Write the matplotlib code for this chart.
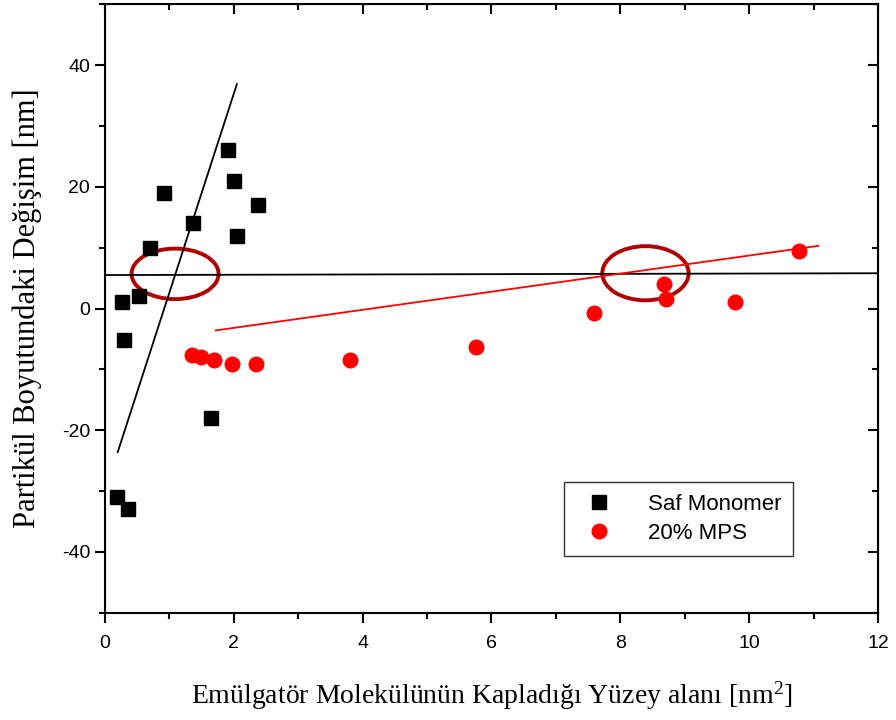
import numpy as np
import matplotlib.pyplot as plt
from matplotlib.patches import Ellipse
from matplotlib.ticker import MultipleLocator

# Saf Monomer
saf_x = [0.27, 0.30, 0.53, 0.70, 0.92, 1.37, 1.91, 2.00, 2.05, 2.38, 1.64, 0.19, 0.36]
saf_y = [1.0, -5.1, 2.0, 10.0, 19.0, 14.0, 26.0, 21.0, 12.0, 17.0, -18.0, -31.0, -33.0]

# 20% MPS
mps_x = [1.35, 1.50, 1.69, 1.97, 2.35, 3.80, 5.76, 7.59, 8.68, 8.71, 9.78, 10.77]
mps_y = [-7.6, -8.0, -8.5, -9.2, -9.1, -8.4, -6.4, -0.8, 4.0, 1.5, 1.1, 9.5]

# fitted lines (end points)
saf_fit_x = [0.20, 2.05]
saf_fit_y = [-23.6, 36.9]
mps_fit_x = [1.72, 11.07]
mps_fit_y = [-3.6, 10.3]
ref_x = [0, 12]
ref_y = [5.5, 5.8]

# marked intersections: (x, y, width, height)
circles = [(1.09, 5.7, 1.35, 8.3), (8.39, 5.8, 1.34, 8.9)]

plt.rcParams['font.family'] = ['Liberation Sans', 'DejaVu Sans']
plt.rcParams['axes.unicode_minus'] = False
plt.rcParams['mathtext.fontset'] = 'custom'
plt.rcParams['mathtext.rm'] = 'Liberation Serif'
plt.rcParams['mathtext.it'] = 'Liberation Serif:italic'

fig = plt.figure(figsize=(8.96, 7.2), dpi=100)
ax = fig.add_axes([0.117, 0.149, 0.863, 0.845])

ax.plot(ref_x, ref_y, color='black', lw=1.3)
ax.plot(saf_fit_x, saf_fit_y, color='black', lw=1.3)
ax.plot(mps_fit_x, mps_fit_y, color='red', lw=1.3)

ax.plot(saf_x, saf_y, 's', color='black', ms=9.5, ls='none', label='Saf Monomer')
ax.plot(mps_x, mps_y, 'o', color='red', ms=10.5, ls='none', label='20% MPS')

for cx, cy, w, h in circles:
    ax.add_patch(Ellipse((cx, cy), w, h, fill=False, edgecolor='#B00000', lw=2.8))

ax.set_xlim(0, 12)
ax.set_ylim(-50, 50)
ax.xaxis.set_major_locator(MultipleLocator(2))
ax.xaxis.set_minor_locator(MultipleLocator(1))
ax.yaxis.set_major_locator(MultipleLocator(20))
ax.yaxis.set_minor_locator(MultipleLocator(10))
ax.tick_params(which='major', direction='out', length=7, width=1.5, labelsize=14)
ax.tick_params(which='minor', direction='out', length=4.5, width=1.5)
ax.tick_params(axis='x', pad=9)
for s in ax.spines.values():
    s.set_linewidth(1.5)

# inward ticks on the top and right edges
top = ax.secondary_xaxis('top')
top.xaxis.set_major_locator(MultipleLocator(2))
top.xaxis.set_minor_locator(MultipleLocator(1))
top.tick_params(which='major', direction='in', length=7, width=1.5, labeltop=False)
top.tick_params(which='minor', direction='in', length=4.5, width=1.5)
right = ax.secondary_yaxis('right')
right.yaxis.set_major_locator(MultipleLocator(20))
right.yaxis.set_minor_locator(MultipleLocator(10))
right.tick_params(which='major', direction='in', length=7, width=1.5, labelright=False)
right.tick_params(which='minor', direction='in', length=4.5, width=1.5)

ax.set_xlabel('Emülgatör Molekülünün Kapladığı Yüzey alanı [nm$^\\mathrm{2}$]',
              family='Liberation Serif', fontsize=20, labelpad=20)
ax.set_ylabel('Partikül Boyutundaki Değişim [nm]',
              family='Liberation Serif', fontsize=22, labelpad=14)

leg = ax.legend(loc='lower left', bbox_to_anchor=(0.58, 0.075), fontsize=16,
                frameon=True, fancybox=False, edgecolor='black',
                handletextpad=1.2, borderpad=0.55, labelspacing=0.35,
                handlelength=2.0)
leg.get_frame().set_linewidth(1.0)

fig.savefig('out.png', dpi=100)
